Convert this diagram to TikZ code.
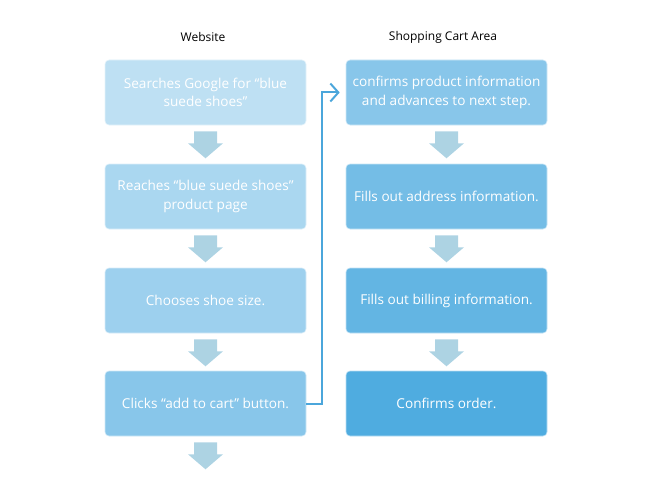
\documentclass[tikz,border=0pt]{standalone}
\usepackage{fontspec}
\setmainfont{Open Sans}
\usetikzlibrary{arrows.meta,calc}
\definecolor{cl1}{HTML}{BEE0F3}
\definecolor{cl2}{HTML}{AAD7F0}
\definecolor{cl3}{HTML}{9DD0EE}
\definecolor{cl4}{HTML}{88C6EA}
\definecolor{cr1}{HTML}{88C6EA}
\definecolor{cr2}{HTML}{74BDE6}
\definecolor{cr3}{HTML}{63B5E3}
\definecolor{cr4}{HTML}{4FACE0}
\definecolor{arrowc}{HTML}{ADD3E3}
\definecolor{connc}{HTML}{4BA6DB}
\begin{document}
\begin{tikzpicture}[x=1pt,y=-1pt,
  box/.style={rounded corners=4pt, minimum width=201pt, minimum height=65pt,
    text=white, align=center, inner sep=0pt,
    font=\fontsize{13.6}{18.5}\selectfont, draw=white!60!#1, line width=0.6pt, fill=#1},
  coltitle/.style={font=\fontsize{12}{14}\selectfont, text=black},
  blockarrow/.style={fill=arrowc, draw=none},
  conn/.style={draw=connc, line width=2pt, -{Straight Barb[length=8pt,width=18pt,line width=2pt]}}]
\useasboundingbox (0,0) rectangle (652,500);

\node[coltitle] (t1) at (203,37) {Website};
\node[coltitle] (t2) at (443,37) {Shopping Cart Area};

\node[box=cl1] (l1) at (205.5,92.5) {Searches Google for “blue\\suede shoes”};
\node[box=cl2] (l2) at (205.5,196.5) {Reaches “blue suede shoes”\\product page};
\node[box=cl3] (l3) at (205.5,300.5) {Chooses shoe size.};
\node[box=cl4] (l4) at (205.5,403.5) {Clicks “add to cart” button.};

\node[box=cr1] (r1) at (446.5,92.5) {confirms product information\\and advances to next step.};
\node[box=cr2] (r2) at (446.5,196.5) {Fills out address information.};
\node[box=cr3] (r3) at (446.5,300.5) {Fills out billing information.};
\node[box=cr4] (r4) at (446.5,403.5) {Confirms order.};

\foreach \b in {l1,l2,l3,l4,r1,r2,r3}{
  \fill[blockarrow] ($(\b.south)+(-11.5,6)$) -- ++(23,0) -- ++(0,12) -- ++(6,0)
     -- ++(-17.5,15) -- ++(-17.5,-15) -- ++(6,0) -- cycle;
}

\draw[conn, shorten >=6pt] (l4.east) -- ++(16,0) |- (r1.west);
\end{tikzpicture}
\end{document}
